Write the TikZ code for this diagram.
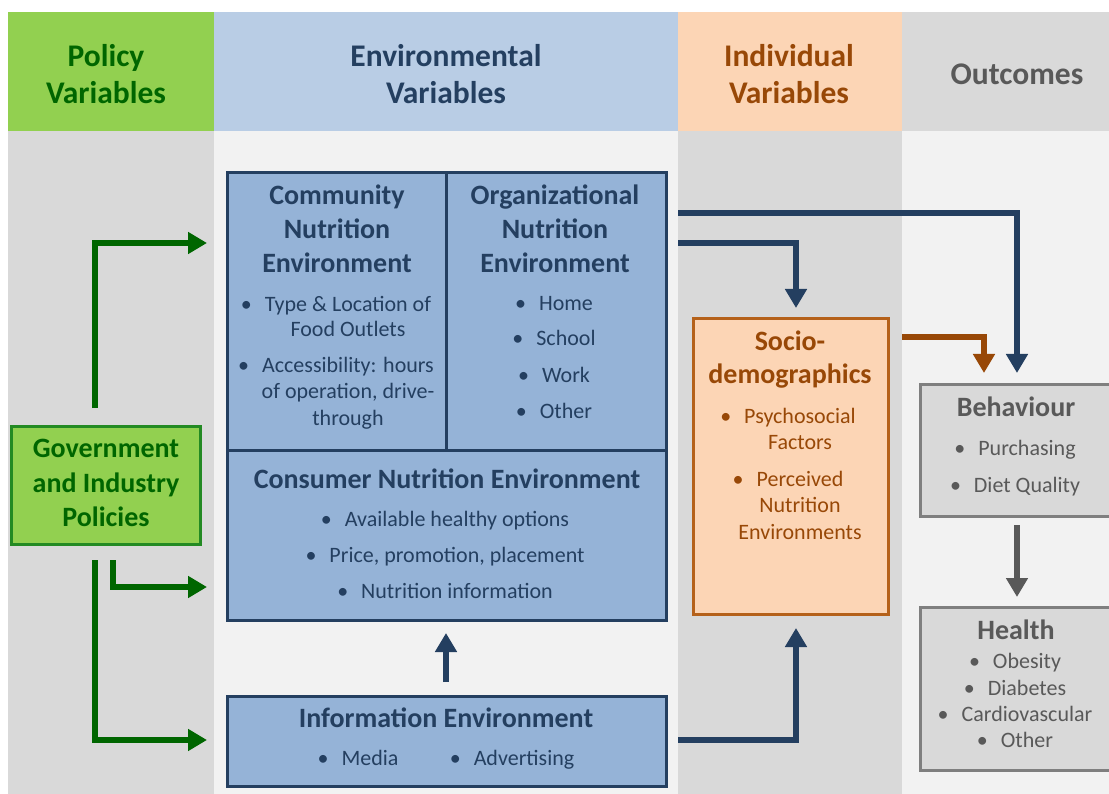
\documentclass[tikz,border=0pt]{standalone}
\usepackage{fontspec}
\setmainfont{Carlito}
\usetikzlibrary{arrows.meta}

\definecolor{navy}{HTML}{243F60}
\definecolor{boxblue}{HTML}{95B3D7}
\definecolor{hdrblue}{HTML}{B9CDE5}
\definecolor{lightbg}{HTML}{F2F2F2}
\definecolor{midgray}{HTML}{D9D9D9}
\definecolor{lime}{HTML}{92D050}
\definecolor{forest}{HTML}{006600}
\definecolor{govedge}{HTML}{238A23}
\definecolor{peach}{HTML}{FCD5B5}
\definecolor{rust}{HTML}{984807}
\definecolor{rustedge}{HTML}{B5611A}
\definecolor{slate}{HTML}{595959}
\definecolor{grayedge}{HTML}{7F7F7F}

% hanging bullet in front of a centred line
\newcommand{\hb}{\llap{\textbullet\hspace{13pt}}}

\tikzset{
  hdr/.style={anchor=base, inner sep=0pt, font=\fontsize{31.5}{38}\selectfont\bfseries},
  ttl/.style={anchor=base, inner sep=0pt, font=\fontsize{28}{34}\selectfont\bfseries},
  itm/.style={anchor=base, inner sep=0pt, font=\fontsize{22}{26}\selectfont},
  envbox/.style={draw=navy, fill=boxblue, line width=3pt, inner sep=0pt},
  govbox/.style={draw=govedge, fill=lime, line width=3pt, inner sep=0pt},
  socbox/.style={draw=rustedge, fill=peach, line width=3pt, inner sep=0pt},
  outbox/.style={draw=grayedge, fill=midgray, line width=3pt, inner sep=0pt},
  garrow/.style={forest, line width=6pt, -{Triangle[width=21pt,length=19pt]}},
  barrow/.style={navy, line width=5.5pt, -{Triangle[width=21pt,length=19pt]}},
  rarrow/.style={rust, line width=5.5pt, -{Triangle[width=21pt,length=19pt]}},
  sarrow/.style={slate, line width=5.5pt, -{Triangle[width=21pt,length=19pt]}},
}

\begin{document}
\begin{tikzpicture}[x=1pt,y=-1pt]
\useasboundingbox (0,0) rectangle (1109,794);
\clip (0,0) rectangle (1109,794);
\fill[white] (0,0) rectangle (1109,794);

% column bands: headers and bodies
\fill[lime]      (8,12)   rectangle (214,131);
\fill[hdrblue]   (214,12) rectangle (678,131);
\fill[peach]     (678,12) rectangle (902,131);
\fill[midgray]   (902,12) rectangle (1109,131);
\fill[midgray]   (8,131)   rectangle (214,794);
\fill[lightbg]   (214,131) rectangle (678,794);
\fill[midgray]   (678,131) rectangle (902,794);
\fill[lightbg]   (902,131) rectangle (1109,794);

% column headings
\node[hdr, forest] (h1a) at (106,67)  {Policy};
\node[hdr, forest] (h1b) at (106,104) {Variables};
\node[hdr, navy]   (h2a) at (446,67)  {Environmental};
\node[hdr, navy]   (h2b) at (446,104) {Variables};
\node[hdr, rust]   (h3a) at (789,67)  {Individual};
\node[hdr, rust]   (h3b) at (789,104) {Variables};
\node[hdr, slate]  (h4)  at (1017,85) {Outcomes};

% boxes
\node[envbox, minimum width=439pt, minimum height=447pt] (env)  at (446.5,396.5) {};
\node[envbox, minimum width=439pt, minimum height=90pt]  (info) at (446.5,741)   {};
\node[govbox, minimum width=189pt, minimum height=118pt] (gov)  at (106,485)     {};
\node[socbox, minimum width=195pt, minimum height=295pt] (soc)  at (791,466.5)   {};
\node[outbox, minimum width=200pt, minimum height=131pt] (beh)  at (1020,450.5)  {};
\node[outbox, minimum width=200pt, minimum height=163pt] (hea)  at (1020,688.5)  {};

% dividers inside the environment box
\draw[navy, line width=3pt] (446,173) -- (446,450);
\draw[navy, line width=3pt] (227,450) -- (666,450);

% community nutrition environment
\node[ttl, navy] (c1) at (337,205) {Community};
\node[ttl, navy] (c2) at (337,239) {Nutrition};
\node[ttl, navy] (c3) at (337,273) {Environment};
\node[itm, navy] (c4) at (348,312) {\hb Type \& Location of};
\node[itm, navy] (c5) at (348,337) {Food Outlets};
\node[itm, navy] (c6) at (348,373) {\hb Accessibility: hours};
\node[itm, navy] (c7) at (348,399) {of operation, drive-};
\node[itm, navy] (c8) at (348,425) {through};

% organizational nutrition environment
\node[ttl, navy] (o1) at (555,205) {Organizational};
\node[ttl, navy] (o2) at (555,239) {Nutrition};
\node[ttl, navy] (o3) at (555,273) {Environment};
\foreach \t/\y [count=\i] in {Home/311, School/346, Work/382, Other/418}
  \node[itm, navy] (oi\i) at (566,\y) {\hb \t};

% consumer nutrition environment
\node[ttl, navy] (k1) at (447,488) {Consumer Nutrition Environment};
\foreach \t/\y [count=\i] in {Available healthy options/526, {Price, promotion, placement}/562, Nutrition information/598}
  \node[itm, navy] (ki\i) at (457,\y) {\hb \t};

% information environment
\node[ttl, navy] (i1) at (446,727) {Information Environment};
\node[itm, navy] (i2) at (370,765) {\hb Media};
\node[itm, navy] (i3) at (524,765) {\hb Advertising};

% policies
\node[ttl, forest] (g1) at (106,457) {Government};
\node[ttl, forest] (g2) at (106,492) {and Industry};
\node[ttl, forest] (g3) at (106,526) {Policies};

% socio-demographics
\node[ttl, rust] (s1) at (790,351) {Socio-};
\node[ttl, rust] (s2) at (790,384) {demographics};
\node[itm, rust] (s3) at (800,423) {\hb Psychosocial};
\node[itm, rust] (s4) at (800,449) {Factors};
\node[itm, rust] (s5) at (800,486) {\hb Perceived};
\node[itm, rust] (s6) at (800,512) {Nutrition};
\node[itm, rust] (s7) at (800,539) {Environments};

% behaviour
\node[ttl, slate] (b1) at (1016,417) {Behaviour};
\node[itm, slate] (b2) at (1027,455) {\hb Purchasing};
\node[itm, slate] (b3) at (1027,492) {\hb Diet Quality};

% health
\node[ttl, slate] (e1) at (1016,639) {Health};
\foreach \t/\y [count=\i] in {Obesity/668, Diabetes/695, Cardiovascular/721, Other/747}
  \node[itm, slate] (ei\i) at (1027,\y) {\hb \t};

% connector end points
\coordinate (gA) at (95,408);   \coordinate (gAe) at (207,243);
\coordinate (gB) at (112.5,560); \coordinate (gBe) at (207,587);
\coordinate (gC) at (95,560);   \coordinate (gCe) at (207,740);
\coordinate (nA) at (678,213);  \coordinate (nAe) at (1017,373);
\coordinate (nB) at (678,243);  \coordinate (nBe) at (796,308);
\coordinate (nC) at (678,740);  \coordinate (nCe) at (796,628);
\coordinate (nD) at (446,682);  \coordinate (nDe) at (446,633);
\coordinate (rA) at (902,337);  \coordinate (rAe) at (984,373);
\coordinate (sA) at (1017,525); \coordinate (sAe) at (1017,597);

% policy arrows
\draw[garrow] (gA) |- (gAe);
\draw[garrow] (gB) |- (gBe);
\draw[garrow] (gC) |- (gCe);

% environment arrows
\draw[barrow] (nA) -| (nAe);
\draw[barrow] (nB) -| (nBe);
\draw[barrow] (nC) -| (nCe);
\draw[barrow] (nD) -- (nDe);

% individual and outcome arrows
\draw[rarrow] (rA) -| (rAe);
\draw[sarrow] (sA) -- (sAe);
\end{tikzpicture}
\end{document}
